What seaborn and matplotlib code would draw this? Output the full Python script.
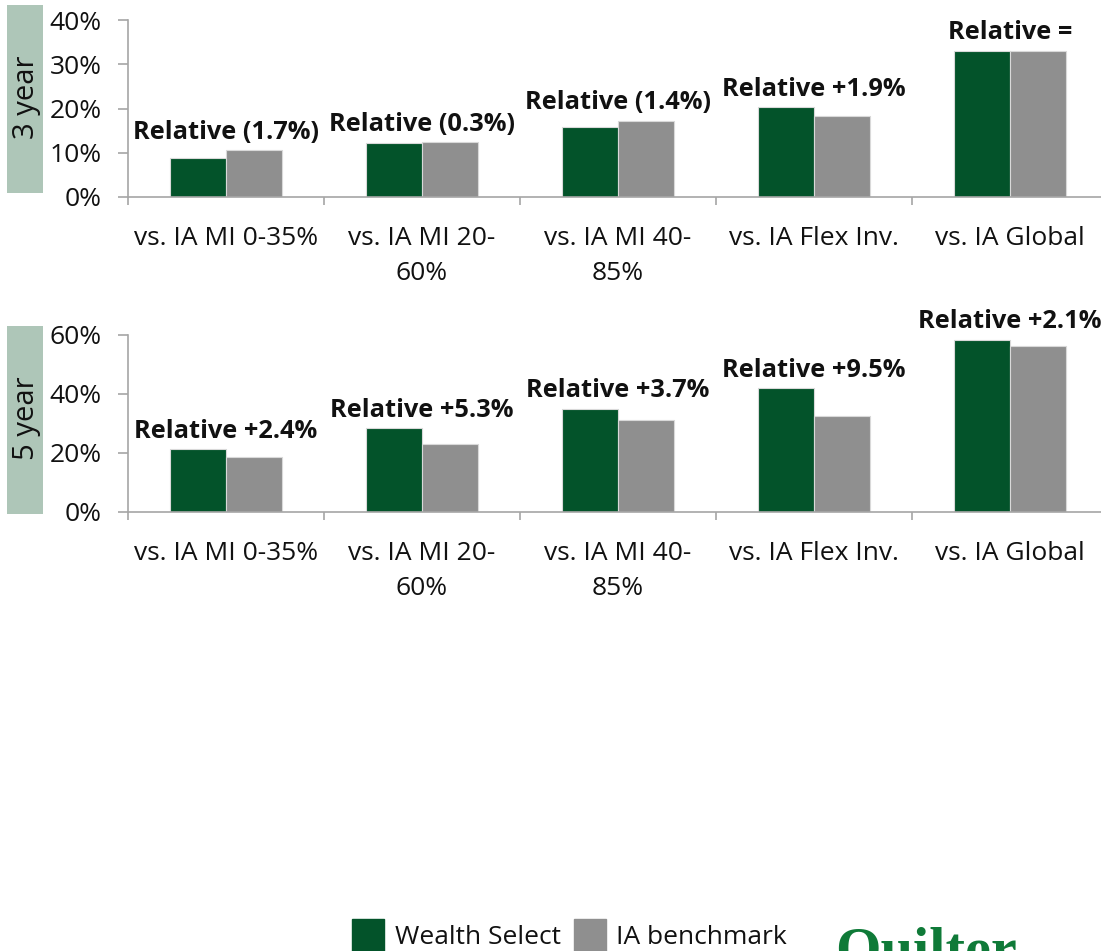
import matplotlib
matplotlib.use("Agg")
import matplotlib.pyplot as plt
import seaborn as sns
import pandas as pd
from matplotlib.patches import Rectangle
from matplotlib.lines import Line2D

categories = ["vs. IA MI 0-35%", "vs. IA MI 20-\n60%", "vs. IA MI 40-\n85%",
              "vs. IA Flex Inv.", "vs. IA Global"]
series = ["Wealth Select", "IA benchmark"]
wealth_3y = [8.9, 12.1, 15.8, 20.3, 33.1]
bench_3y = [10.6, 12.4, 17.2, 18.3, 33.1]
labels_3y = ["Relative (1.7%)", "Relative (0.3%)", "Relative (1.4%)",
             "Relative +1.9%", "Relative ="]
wealth_5y = [21.1, 28.2, 34.8, 41.8, 58.3]
bench_5y = [18.6, 22.9, 31.0, 32.4, 56.2]
labels_5y = ["Relative +2.4%", "Relative +5.3%", "Relative +3.7%",
             "Relative +9.5%", "Relative +2.1%"]
panel_titles = ["3 year", "5 year"]
yticks_3y = [0, 10, 20, 30, 40]
yticks_5y = [0, 20, 40, 60]

GREEN = "#03532a"
GREY = "#8f8f8f"
BOX = "#aec6b8"
AXC = "#a6a6a6"
TXT = "#111111"

sns.set_theme(style="white")
plt.rcParams['font.family'] = ['Open Sans', 'DejaVu Sans']

W, H = 1101, 951
fig = plt.figure(figsize=(W / 100, H / 100), dpi=100)


def px_axes(left, top, right, bottom):
    return fig.add_axes([left / W, 1 - bottom / H, (right - left) / W, (bottom - top) / H])


def draw_panel(ax, wvals, bvals, labels, yticks, title, box):
    df = pd.DataFrame({
        "category": categories * 2,
        "series": [series[0]] * len(categories) + [series[1]] * len(categories),
        "value": list(wvals) + list(bvals),
    })
    sns.barplot(data=df, x="category", y="value", hue="series",
                order=categories, hue_order=series, saturation=1,
                palette=[GREEN, GREY], width=0.57, ax=ax, legend=False,
                edgecolor="#d9d9d9", linewidth=0.8)
    ax.set_xlim(-0.5, len(categories) - 0.5)
    ax.set_ylim(yticks[0], yticks[-1])
    ax.set_yticks(yticks)
    ax.set_yticklabels([f"{t}%" for t in yticks])
    ax.set_xlabel("")
    ax.set_ylabel("")
    for s in ["top", "right"]:
        ax.spines[s].set_visible(False)
    for s in ["left", "bottom"]:
        ax.spines[s].set_color(AXC)
        ax.spines[s].set_linewidth(1.2)
    ax.tick_params(axis="y", which="major", left=True, length=7, width=1.2,
                   color=AXC, pad=12, labelsize=19, labelcolor=TXT)
    ax.set_xticks(range(len(categories)))
    ax.set_xticklabels(categories, fontsize=19, color=TXT, linespacing=1.52)
    ax.tick_params(axis="x", which="major", bottom=True, length=0, pad=21)
    ax.set_xticks([i - 0.5 for i in range(len(categories) + 1)], minor=True)
    ax.tick_params(axis="x", which="minor", bottom=True, length=6, width=1.2,
                   color=AXC)
    for i, lab in enumerate(labels):
        top = max(wvals[i], bvals[i])
        ax.annotate(lab, xy=(i, top), xytext=(0, 4), textcoords="offset points",
                    ha="center", va="bottom", fontsize=18.3, fontweight="bold",
                    color=TXT, annotation_clip=False)
    # side title box
    l, t, r, b = box
    fig.patches.append(Rectangle((l / W, 1 - b / H), (r - l) / W, (b - t) / H,
                                 transform=fig.transFigure, facecolor=BOX,
                                 edgecolor="none"))
    fig.text((l + r) / 2 / W + 0.001, 1 - (t + b) / 2 / H + 0.002, title, rotation=90,
             ha="center", va="center", fontsize=21, color=TXT)


ax1 = px_axes(128, 20, 1108, 197)
draw_panel(ax1, wealth_3y, bench_3y, labels_3y, yticks_3y, panel_titles[0],
           (7, 5, 43, 193))
ax2 = px_axes(128, 334.5, 1108, 511.7)
draw_panel(ax2, wealth_5y, bench_5y, labels_5y, yticks_5y, panel_titles[1],
           (7, 326, 43, 514))

handles = [Line2D([0], [0], marker="s", linestyle="none", markersize=23,
                  markerfacecolor=c, markeredgecolor=c) for c in [GREEN, GREY]]
fig.legend(handles, series, loc="center", bbox_to_anchor=(571 / W, 1 - 938 / H),
           ncol=2, frameon=False, fontsize=19, handlelength=1.0,
           handletextpad=0.5, columnspacing=0.6, labelcolor=TXT)

fig.text(835 / W, 1 - 927 / H, "Quilter", ha="left", va="top",
         fontsize=42, fontweight="bold", family=["Liberation Serif", "DejaVu Serif"],
         color="#0f7a38")

fig.savefig("out.png", dpi=100)
